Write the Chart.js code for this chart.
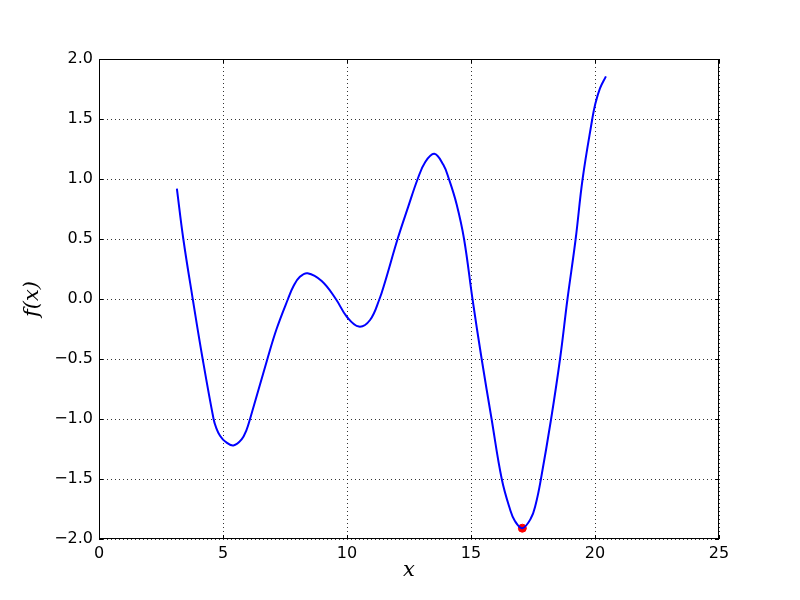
<!DOCTYPE html>
<html>
<head>
<meta charset="utf-8">
<script src="https://cdn.jsdelivr.net/npm/chart.js@4.4.1/dist/chart.umd.min.js"></script>
<style>
  html, body { margin: 0; padding: 0; background: #fff; }
  #wrap { width: 800px; height: 600px; }
</style>
</head>
<body>
<div id="wrap"><canvas id="chart" width="800" height="600"></canvas></div>
<script>
// curve samples
const curveX = [3.14, 3.40, 3.78, 4.18, 4.62, 4.72, 4.88, 5.10, 5.42, 5.75, 5.95, 6.09, 6.79, 7.16, 7.62,
  7.85, 8.10, 8.41, 8.98, 9.55, 10.00, 10.48, 10.93, 11.31, 11.53, 12.04, 12.47, 12.85, 13.15, 13.52,
  13.88, 14.11, 14.42, 14.72, 15.06, 15.43, 15.83, 16.24, 16.57, 16.77, 17.07, 17.41, 17.61, 17.82,
  18.23, 18.59, 18.89, 19.22, 19.50, 19.89, 20.00, 20.20, 20.44];
const curveY = [0.92, 0.50, 0.00, -0.50, -1.00, -1.07, -1.14, -1.19, -1.22, -1.17, -1.09, -1.00, -0.50, -0.25, 0.00,
  0.11, 0.185, 0.215, 0.15, 0.00, -0.15, -0.23, -0.175, 0.00, 0.14, 0.50, 0.77, 1.00, 1.14, 1.21,
  1.12, 1.00, 0.79, 0.50, 0.00, -0.50, -1.00, -1.50, -1.75, -1.85, -1.91, -1.83, -1.71, -1.50,
  -1.00, -0.50, 0.00, 0.50, 1.00, 1.50, 1.615, 1.755, 1.855];
const minX = [17.07];
const minY = [-1.91];

const xTicks = [0, 5, 10, 15, 20, 25];
const yTicks = [-2.0, -1.5, -1.0, -0.5, 0.0, 0.5, 1.0, 1.5, 2.0];

const TICK_FONT = { family: "DejaVu Sans", size: 16 };
const TITLE_FONT = { family: "DejaVu Serif", size: 21, style: "italic" };
const GRID = { color: "rgba(0,0,0,0.8)", lineWidth: 1, drawTicks: false };
const BORDER = { display: false, dash: [1, 3] };

function fmtY(v) {
  return v.toFixed(1).replace("-", "\u2212");
}

// black frame plus the little inward tick marks on all four sides
const framePlugin = {
  id: "frame",
  afterDraw(chart) {
    const { ctx, chartArea: a, scales } = chart;
    ctx.save();
    ctx.strokeStyle = "#000";
    ctx.lineWidth = 1;
    ctx.strokeRect(a.left + 0.5, a.top + 0.5, a.right - a.left - 1, a.bottom - a.top - 1);
    ctx.beginPath();
    xTicks.forEach((t) => {
      const px = Math.round(scales.x.getPixelForValue(t)) + 0.5;
      ctx.moveTo(px, a.bottom); ctx.lineTo(px, a.bottom - 4);
      ctx.moveTo(px, a.top); ctx.lineTo(px, a.top + 4);
    });
    yTicks.forEach((t) => {
      const py = Math.round(scales.y.getPixelForValue(t)) + 0.5;
      ctx.moveTo(a.left, py); ctx.lineTo(a.left + 4, py);
      ctx.moveTo(a.right, py); ctx.lineTo(a.right - 4, py);
    });
    ctx.stroke();
    ctx.restore();
  },
};

new Chart(document.getElementById("chart"), {
  type: "line",
  data: {
    datasets: [
      {
        label: "f",
        data: curveX.map((x, i) => ({ x, y: curveY[i] })),
        borderColor: "#0000ff",
        borderWidth: 2,
        pointRadius: 0,
        fill: false,
        tension: 0.4,
      },
      {
        label: "min",
        data: minX.map((x, i) => ({ x, y: minY[i] })),
        showLine: false,
        pointRadius: 4,
        pointBackgroundColor: "#ff0000",
        pointBorderColor: "#ff0000",
      },
    ],
  },
  options: {
    responsive: false,
    animation: false,
    layout: { padding: { left: 0, right: 81, top: 59, bottom: 0 } },
    plugins: { legend: { display: false }, tooltip: { enabled: false } },
    scales: {
      x: {
        type: "linear",
        min: 0,
        max: 25,
        afterBuildTicks: (s) => { s.ticks = xTicks.map((v) => ({ value: v })); },
        afterFit: (s) => { s.height = 61; },
        grid: GRID,
        border: BORDER,
        ticks: { color: "#000", font: TICK_FONT, padding: 5, maxRotation: 0 },
        title: { display: true, text: "x", color: "#000", font: TITLE_FONT, padding: { top: 0, bottom: 17 } },
      },
      y: {
        type: "linear",
        min: -2,
        max: 2,
        afterBuildTicks: (s) => { s.ticks = yTicks.map((v) => ({ value: v })); },
        afterFit: (s) => { s.width = 99; },
        grid: GRID,
        border: BORDER,
        ticks: { color: "#000", font: TICK_FONT, padding: 6, callback: (v) => fmtY(v) },
        title: { display: true, text: "f(x)", color: "#000", font: TITLE_FONT, padding: { top: 20, bottom: 0 } },
      },
    },
  },
  plugins: [framePlugin],
});
</script>
</body>
</html>
